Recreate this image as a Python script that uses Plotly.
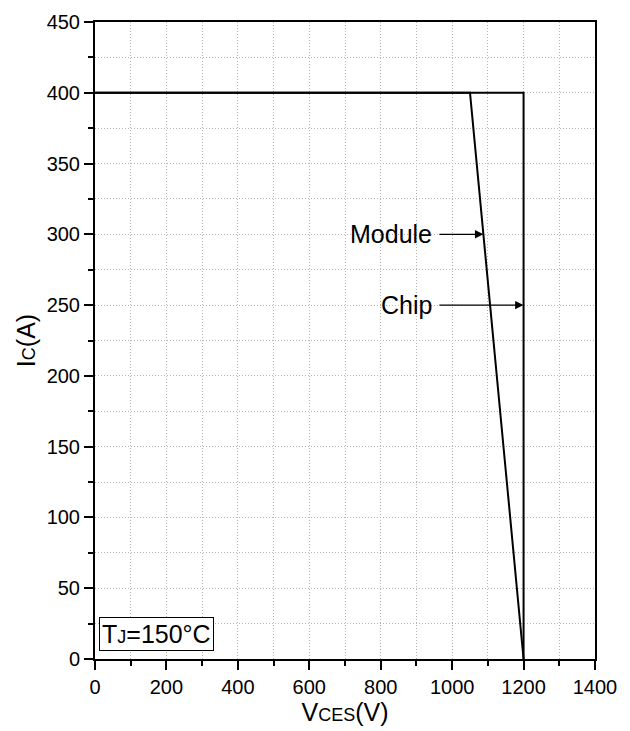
import plotly.graph_objects as go

# Safe operating area boundaries (V_CES in volts, I_C in amps)
chip_v = [0, 1200, 1200]
chip_i = [400, 400, 0]
module_v = [0, 1050, 1200]
module_i = [400, 400, 0]

x_ticks = [0, 200, 400, 600, 800, 1000, 1200, 1400]
y_ticks = [0, 50, 100, 150, 200, 250, 300, 350, 400, 450]

font = "Arial, Liberation Sans, sans-serif"
grid_color = "#b4b4b4"
grid_dash = "1px,2px"

fig = go.Figure()
fig.add_trace(go.Scatter(x=chip_v, y=chip_i, mode="lines",
                         line=dict(color="black", width=2), showlegend=False))
fig.add_trace(go.Scatter(x=module_v, y=module_i, mode="lines",
                         line=dict(color="black", width=2), showlegend=False))

# Labels with arrows pointing to each curve
mod_y = 300
mod_x = module_v[1] + (module_v[2] - module_v[1]) * (module_i[1] - mod_y) / module_i[1]
fig.add_annotation(x=mod_x, y=mod_y, ax=960, ay=mod_y, xref="x", yref="y",
                   axref="x", ayref="y", showarrow=True, arrowhead=2,
                   arrowsize=1.3, arrowwidth=1.3, arrowcolor="black", text="")
fig.add_annotation(x=950, y=mod_y, text="Module", showarrow=False,
                   xanchor="right", font=dict(size=25, color="black", family=font))

chip_y = 250
fig.add_annotation(x=chip_v[1], y=chip_y, ax=960, ay=chip_y, xref="x", yref="y",
                   axref="x", ayref="y", showarrow=True, arrowhead=2,
                   arrowsize=1.3, arrowwidth=1.3, arrowcolor="black", text="")
fig.add_annotation(x=950, y=chip_y, text="Chip", showarrow=False,
                   xanchor="right", font=dict(size=25, color="black", family=font))

# Junction temperature box
fig.add_annotation(x=0.008, y=0.013, xref="paper", yref="paper",
                   xanchor="left", yanchor="bottom", showarrow=False,
                   text="T<span style='font-size:18px'>J</span>=150°C",
                   font=dict(size=25, color="black", family=font),
                   bordercolor="black", borderwidth=1, borderpad=2,
                   bgcolor="white")

axis_common = dict(
    showline=True, linecolor="black", linewidth=2, mirror=True,
    ticks="outside", ticklen=9, tickwidth=2, tickcolor="black",
    showgrid=True, gridcolor=grid_color, griddash=grid_dash, gridwidth=1,
    zeroline=False, automargin=False,
    tickfont=dict(size=20, color="black", family=font),
)

fig.update_xaxes(
    range=[0, 1400], tickvals=x_ticks,
    minor=dict(dtick=100, ticks="outside", ticklen=5, tickwidth=2, tickcolor="black",
               showgrid=True, gridcolor=grid_color, griddash=grid_dash, gridwidth=1),
    title=dict(text="V<span style='font-size:18px'>CES</span>(V)", standoff=6,
               font=dict(size=25, color="black", family=font)),
    **axis_common,
)
fig.update_yaxes(
    range=[0, 450], tickvals=y_ticks,
    minor=dict(dtick=25, ticks="outside", ticklen=5, tickwidth=2, tickcolor="black",
               showgrid=True, gridcolor=grid_color, griddash=grid_dash, gridwidth=1),
    title=dict(text="I<span style='font-size:18px'>C</span>(A)", standoff=4,
               font=dict(size=25, color="black", family=font)),
    **axis_common,
)

fig.update_layout(
    width=630, height=731,
    margin=dict(l=95, r=35, t=22, b=72),
    plot_bgcolor="white", paper_bgcolor="white",
    font=dict(family=font, color="black"),
)

fig.write_html("out.html")
